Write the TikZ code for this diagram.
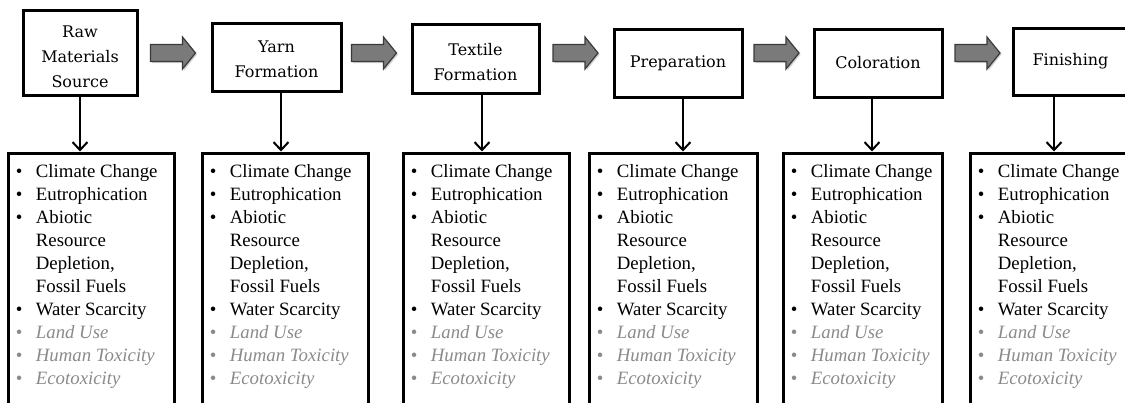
\documentclass[tikz,border=0pt]{standalone}
\usepackage{fontspec}
\setmainfont{Liberation Serif}
\newfontfamily\headfont{DejaVu Serif}
\usetikzlibrary{arrows.meta}
\definecolor{itemgray}{HTML}{8A8A8A}
\definecolor{arrowfill}{HTML}{7A7A7A}
\definecolor{arrowline}{HTML}{3A3A3A}
\newcommand\bitem[1]{\makebox[10pt][l]{\textbullet}#1\par}
\newcommand\citem[1]{\hspace*{10pt}#1\par}
\newcommand\gitem[1]{{\color{itemgray}\makebox[10pt][l]{\textbullet}\textit{#1}}\par}
\newcommand\impactlist{\parbox[t]{80pt}{\fontsize{9.4pt}{11.5pt}\selectfont\raggedright
\bitem{Climate Change}\bitem{Eutrophication}\bitem{Abiotic}\citem{Resource}\citem{Depletion,}\citem{Fossil Fuels}\bitem{Water Scarcity}\gitem{Land Use}\gitem{Human Toxicity}\gitem{Ecotoxicity}}}
\begin{document}
\begin{tikzpicture}[x=0.5pt,y=-0.5pt,
  stage/.style={draw, line width=1.5pt, fill=white, font=\headfont\fontsize{8pt}{12.5pt}\selectfont, align=center, inner sep=0pt},
  listbox/.style={draw, line width=1.5pt, minimum height=128.5pt, inner sep=0pt},
  listtext/.style={anchor=base west, inner sep=0pt},
  down/.style={line width=1pt, -{Straight Barb[length=4pt,width=7.5pt,line width=1pt]}},
  barrow/.style={fill=arrowfill, draw=arrowline, line width=0.6pt, line join=miter},
  barrowshadow/.style={fill=black!18, draw=none},
  blockarrow/.pic={
    \fill[barrowshadow] (-21,-7) -- (11,-7) -- (11,-14.5) -- (24,1.5) -- (11,17.5) -- (11,10) -- (-21,10) -- cycle;
    \draw[barrow] (-22.5,-8.5) -- (9.5,-8.5) -- (9.5,-16) -- (22.5,0) -- (9.5,16) -- (9.5,8.5) -- (-22.5,8.5) -- cycle;
  }]
\useasboundingbox (0,0) rectangle (1125,402);
\clip (0,0) rectangle (1125,402);

% top stage boxes
\node[stage, minimum width=57pt, minimum height=42.5pt] (t1) at (80,52.5) {\rule{0pt}{9.9pt}Raw\\Materials\\Source};
\node[stage, minimum width=64.5pt, minimum height=34pt] (t2) at (276.5,57) {\rule{0pt}{8.6pt}Yarn\\Formation};
\node[stage, minimum width=63.5pt, minimum height=34.5pt] (t3) at (475.5,58.5) {\rule{0pt}{9.6pt}Textile\\Formation};
\node[stage, minimum width=64pt, minimum height=34pt] (t4) at (678,63) {Preparation};
\node[stage, minimum width=64pt, minimum height=34pt] (t5) at (878,63) {Coloration};
\node[stage, minimum width=57.5pt, minimum height=33.5pt] (t6) at (1070.5,61.5) {Finishing};

% block arrows between stages
\pic at (173,53) {blockarrow};
\pic at (374,53) {blockarrow};
\pic at (575.5,53) {blockarrow};
\pic at (776.5,53) {blockarrow};
\pic at (977.5,53) {blockarrow};

% impact boxes
\node[listbox, minimum width=83pt] (b1) at (91,281.5) {};
\node[listbox, minimum width=83pt] (b2) at (285,281.5) {};
\node[listbox, minimum width=83pt] (b3) at (486,281.5) {};
\node[listbox, minimum width=84pt] (b4) at (673,281.5) {};
\node[listbox, minimum width=79.5pt] (b5) at (862.5,281.5) {};
\node[listbox, minimum width=83pt] (b6) at (1053,281.5) {};

\foreach \i in {1,...,6}{
  \node[listtext] (l\i) at ([xshift=4.5pt,yshift=-13pt]b\i.north west) {\impactlist};
}

% down arrows
\draw[down] (t1.south) -- (t1.south |- b1.north);
\draw[down] ([xshift=2.25pt]t2.south) -- ([xshift=2.25pt]t2.south |- b2.north);
\draw[down] ([xshift=3.25pt]t3.south) -- ([xshift=3.25pt]t3.south |- b3.north);
\draw[down] ([xshift=2.5pt]t4.south) -- ([xshift=2.5pt]t4.south |- b4.north);
\draw[down] ([xshift=-3pt]t5.south) -- ([xshift=-3pt]t5.south |- b5.north);
\draw[down] ([xshift=-8.25pt]t6.south) -- ([xshift=-8.25pt]t6.south |- b6.north);
\end{tikzpicture}
\end{document}
